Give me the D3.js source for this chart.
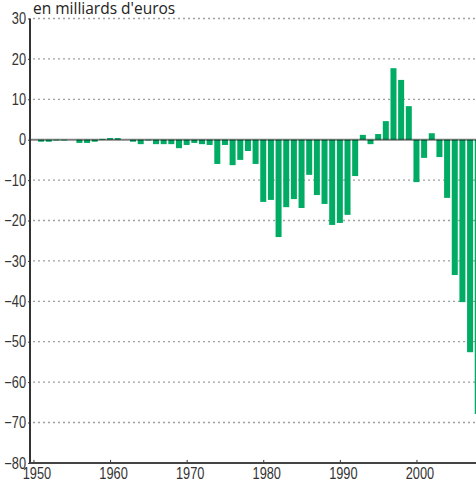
<!DOCTYPE html>
<html lang="fr">
<head>
<meta charset="utf-8">
<script src="https://d3js.org/d3.v7.min.js"></script>
<style>
  body { margin: 0; background: #fff; }
  svg { display: block; }
</style>
</head>
<body>
<svg width="476" height="483"></svg>
<script>
// annees et solde (en milliards d'euros)
var years = d3.range(1951, 2009);
var values = [
  -0.5, -0.5, -0.2, -0.2, 0, -0.8, -0.8, -0.5, 0.2, 0.4,      // 1951-1960
  0.4, 0, -0.5, -1.1, -0.2, -1.1, -1.1, -1.1, -2.1, -1.3,     // 1961-1970
  -0.8, -1.1, -1.3, -6.0, -1.3, -6.3, -5.0, -2.8, -6.0, -15.4, // 1971-1980
  -14.9, -24.1, -16.7, -14.7, -16.9, -8.7, -13.7, -15.9, -21.1, -20.6, // 1981-1990
  -18.6, -9.0, 1.2, -1.1, 1.4, 4.6, 17.7, 14.8, 8.3, -10.5,   // 1991-2000
  -4.5, 1.6, -4.3, -14.4, -33.5, -40.2, -52.6, -67.9          // 2001-2008
];
var yTicks = [30, 20, 10, 0, -10, -20, -30, -40, -50, -60, -70, -80];
var xTicks = [1950, 1960, 1970, 1980, 1990, 2000];
var unitLabel = "en milliards d'euros";

var svg = d3.select("svg");
var green = "#00ab63";
var numFont = "'Liberation Sans', Arial, sans-serif";
var squeeze = 0.8; // chiffres etroits facon Helvetica condensed

var x = d3.scaleLinear().domain([1949.55, 2009]).range([30, 485.4]);
var y = d3.scaleLinear().domain([-80, 30]).range([462.9, 18.5]);
var barW = 6;

// grille pointillee
svg.append("g").selectAll("line")
  .data(yTicks.filter(function(d) { return d !== 0 && d !== -80; }))
  .enter().append("line")
    .attr("x1", 33).attr("x2", 476)
    .attr("y1", function(d) { return y(d); })
    .attr("y2", function(d) { return y(d); })
    .attr("stroke", "#a0a0a0")
    .attr("stroke-width", 1.3)
    .attr("stroke-dasharray", "2,3");

// barres
svg.append("g").selectAll("rect")
  .data(years.map(function(yr, i) { return {year: yr, v: values[i]}; }))
  .enter().append("rect")
    .attr("x", function(d) { return x(d.year) - barW / 2; })
    .attr("width", barW)
    .attr("y", function(d) { return y(Math.max(0, d.v)); })
    .attr("height", function(d) { return Math.abs(y(d.v) - y(0)); })
    .attr("fill", green);

// ligne du zero
svg.append("line")
  .attr("x1", 30).attr("x2", 476)
  .attr("y1", y(0)).attr("y2", y(0))
  .attr("stroke", "#000").attr("stroke-opacity", 0.5)
  .attr("stroke-width", 2);

// axe vertical
var yAxis = d3.axisLeft(y).tickValues(yTicks).tickSize(2).tickPadding(3);
var gy = svg.append("g").attr("transform", "translate(30,0)").call(yAxis);
gy.select(".domain").remove();
gy.selectAll("line").attr("stroke", "#333");
gy.selectAll("text")
  .attr("x", -4 / squeeze)
  .attr("transform", "scale(" + squeeze + ",1)")
  .attr("font-family", numFont).attr("font-size", 16)
  .attr("fill", "#333");

svg.append("line")
  .attr("x1", 30).attr("x2", 30)
  .attr("y1", y(30)).attr("y2", y(-80) + 1)
  .attr("stroke", "#333").attr("stroke-width", 2);

// axe horizontal
var xAxis = d3.axisTop(x).tickValues(xTicks).tickSize(3).tickFormat(d3.format("d"));
var gx = svg.append("g").attr("transform", "translate(0," + y(-80) + ")").call(xAxis);
gx.select(".domain").remove();
gx.selectAll("line").attr("stroke", "#333");
gx.selectAll("text")
  .attr("y", 16.5).attr("dy", 0).attr("x", 3 / squeeze)
  .attr("transform", "scale(" + squeeze + ",1)")
  .attr("font-family", numFont).attr("font-size", 16)
  .attr("fill", "#333");

svg.append("line")
  .attr("x1", 30).attr("x2", 476)
  .attr("y1", y(-80)).attr("y2", y(-80))
  .attr("stroke", "#444").attr("stroke-width", 2);

// unite
svg.append("text")
  .attr("x", 33).attr("y", 13.5)
  .attr("font-family", "'Open Sans', sans-serif")
  .attr("font-size", 15.5)
  .attr("fill", "#222")
  .text(unitLabel);
</script>
</body>
</html>
